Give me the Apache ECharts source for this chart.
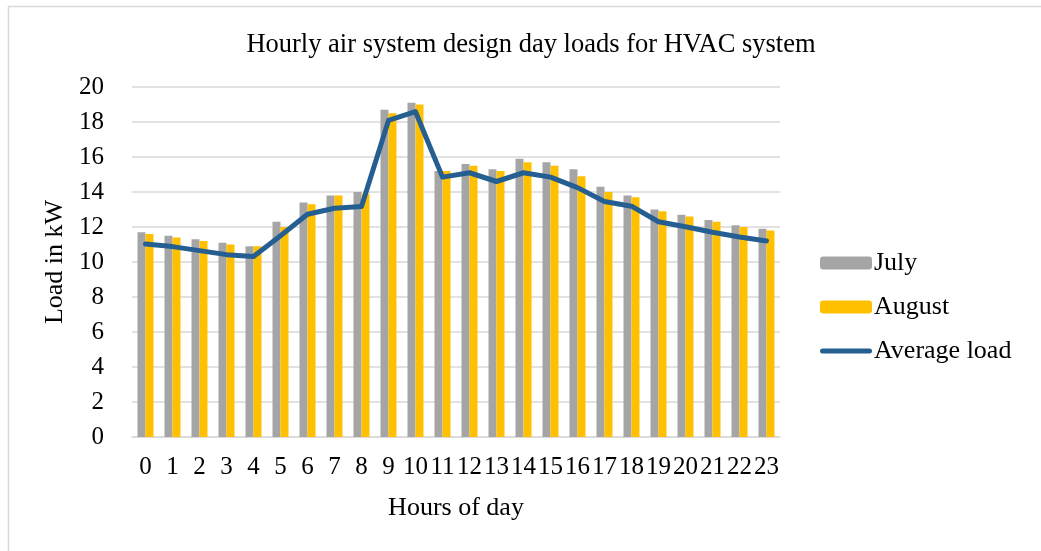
<!DOCTYPE html>
<html>
<head>
<meta charset="utf-8">
<script src="https://cdn.jsdelivr.net/npm/echarts@6/dist/echarts.min.js"></script>
<style>
html,body{margin:0;padding:0;background:#fff;}
#c{width:1041px;height:551px;}
</style>
</head>
<body>
<div id="c"></div>
<script>
var hours = ['0','1','2','3','4','5','6','7','8','9','10','11','12','13','14','15','16','17','18','19','20','21','22','23'];
var july = [11.7, 11.5, 11.3, 11.1, 10.9, 12.3, 13.4, 13.8, 14.0, 18.7, 19.1, 15.2, 15.6, 15.3, 15.9, 15.7, 15.3, 14.3, 13.8, 13.0, 12.7, 12.4, 12.1, 11.9];
var august = [11.6, 11.4, 11.2, 11.0, 10.9, 12.0, 13.3, 13.8, 13.9, 18.5, 19.0, 15.2, 15.5, 15.2, 15.7, 15.5, 14.9, 14.0, 13.7, 12.9, 12.6, 12.3, 12.0, 11.8];
var average = [11.03, 10.88, 10.65, 10.42, 10.31, 11.5, 12.73, 13.07, 13.17, 18.09, 18.59, 14.85, 15.1, 14.6, 15.1, 14.85, 14.25, 13.46, 13.19, 12.3, 12.01, 11.7, 11.43, 11.2];
var yTicks = [0, 20, 2];

var font = '"Liberation Serif", "Times New Roman", serif';
var lineIcon = 'path://M2.5,0 L49.5,0 A2.5,2.5 0 0 1 49.5,5 L2.5,5 A2.5,2.5 0 0 1 2.5,0 Z';
var chart = echarts.init(document.getElementById('c'), null, {renderer: 'canvas'});
chart.setOption({
  animation: false,
  backgroundColor: '#fff',
  graphic: [{
    type: 'rect', left: 6, top: 4, silent: true,
    shape: {width: 1100, height: 600},
    style: {fill: 'none', stroke: '#d9d9d9', lineWidth: 1.5}
  }],
  title: {
    text: 'Hourly air system design day loads for HVAC system',
    left: 526, top: 27, textAlign: 'center',
    textStyle: {fontFamily: font, fontSize: 26.5, fontWeight: 'normal', color: '#000'}
  },
  legend: {
    orient: 'vertical', left: 815, top: 245,
    itemWidth: 52, itemHeight: 13, itemGap: 18,
    textStyle: {fontFamily: font, fontSize: 26, color: '#000', padding: [0,0,0,-3]},
    data: ['July', 'August', {name: 'Average load', icon: lineIcon, itemStyle: {color: '#255e91'}}]
  },
  grid: {left: 132, right: 261, top: 87, bottom: 114, containLabel: false},
  xAxis: {
    type: 'category', data: hours,
    name: 'Hours of day', nameLocation: 'middle', nameGap: 58,
    nameTextStyle: {fontFamily: font, fontSize: 26, color: '#000'},
    axisLine: {lineStyle: {color: '#d9d9d9', width: 1.5}},
    axisTick: {show: false},
    axisLabel: {interval: 0, margin: 18, fontFamily: font, fontSize: 25, color: '#000'}
  },
  yAxis: {
    type: 'value', min: yTicks[0], max: yTicks[1], interval: yTicks[2],
    name: 'Load in kW', nameLocation: 'middle', nameGap: 63, nameRotate: 90,
    nameTextStyle: {fontFamily: font, fontSize: 26, color: '#000'},
    axisLine: {show: false}, axisTick: {show: false},
    axisLabel: {margin: 28, fontFamily: font, fontSize: 25, color: '#000'},
    splitLine: {lineStyle: {color: '#d9d9d9', width: 1.5}}
  },
  series: [
    {name: 'July', type: 'bar', data: july, barWidth: 8, barGap: '0%', itemStyle: {color: '#a5a5a5'}},
    {name: 'August', type: 'bar', data: august, barWidth: 8, barGap: '0%', itemStyle: {color: '#ffc000'}},
    {name: 'Average load', type: 'line', data: average, symbol: 'none', showSymbol: false,
     lineStyle: {color: '#255e91', width: 5, cap: 'round', join: 'round'}, itemStyle: {color: '#255e91'}, z: 5}
  ]
});
</script>
</body>
</html>
